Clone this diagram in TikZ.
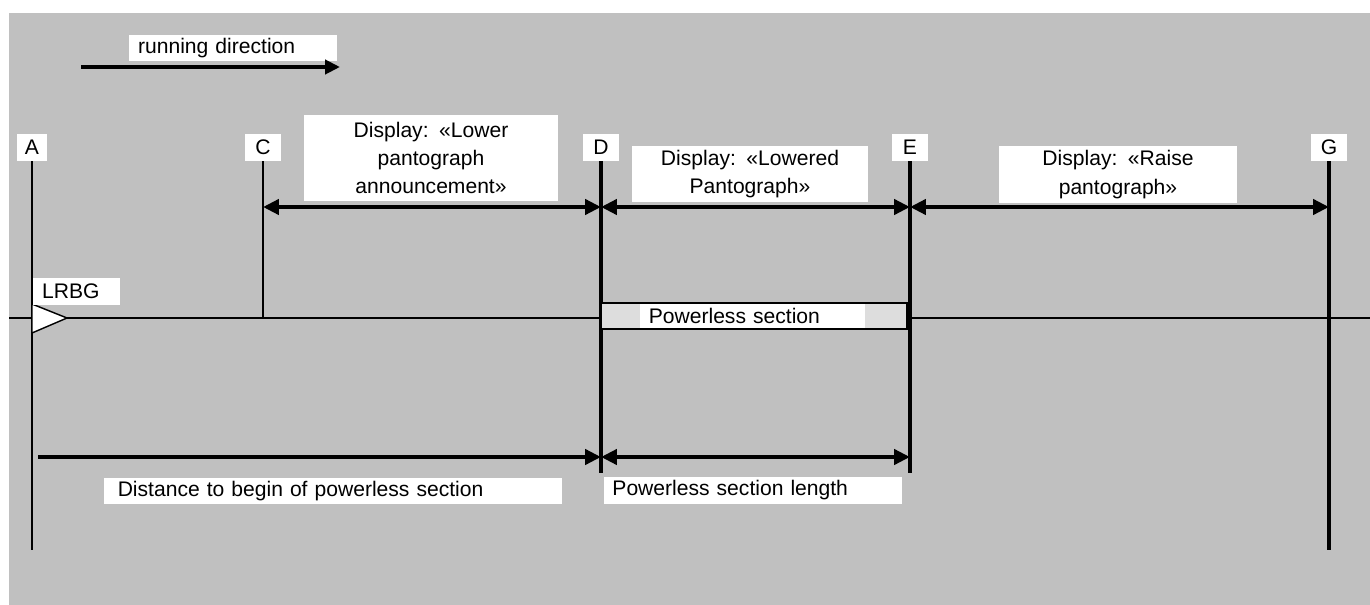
\documentclass[tikz,border=0pt]{standalone}
\usepackage{fontspec}
\setmainfont{Liberation Sans}
\usetikzlibrary{arrows.meta}
\definecolor{bggray}{HTML}{C0C0C0}
\definecolor{sectgray}{HTML}{DDDDDD}
\begin{document}
\begin{tikzpicture}[x=0.02cm, y=-0.02cm, font=\fontsize{12pt}{16pt}\selectfont,
  tag/.style = {fill=white, inner sep=0pt, minimum height=15pt},
  tagl/.style = {tag, align=left, inner xsep=5pt},
  disp/.style = {tag, align=center},
  post/.style = {line width=0.7pt},
  bigpost/.style = {line width=2pt},
  dim/.style = {line width=2.7pt, {Triangle[length=9pt,width=8.5pt]}-{Triangle[length=9pt,width=8.5pt]}},
  dimr/.style = {line width=2.7pt, -{Triangle[length=9pt,width=8.5pt]}}]
\useasboundingbox (0,0) rectangle (1370,605);
\fill[bggray] (9,13) rectangle (1370,605);
% running direction
\node[tagl, text width=108pt] (run) at (233,48) {running direction};
\coordinate (r1) at (81,67);
\coordinate (r2) at (340,67);
\draw[line width=2.2pt, -{Triangle[length=8.5pt,width=8pt]}] (r1) -- (r2);
% track
\coordinate (t1) at (9,318);
\coordinate (t2) at (1370,318);
\draw[post] (t1) -- (t2);
% points
\node[tag, minimum width=17pt] (A) at (32,147.5) {A};
\node[tag, minimum width=21pt] (C) at (263,147.5) {C};
\node[tag, minimum width=20pt] (D) at (601,147.5) {D};
\node[tag, minimum width=20pt] (E) at (910,147.5) {E};
\node[tag, minimum width=21pt] (G) at (1329,147.5) {G};
\coordinate (Ab) at (32,550);
\coordinate (Cb) at (263,318);
\coordinate (Db) at (601,473);
\coordinate (Eb) at (910,473);
\coordinate (Gb) at (1329,550);
\draw[post] (A) -- (Ab);
\draw[post] (C) -- (Cb);
\draw[bigpost] (D) -- (Db);
\draw[bigpost] (E) -- (Eb);
\draw[line width=2.3pt] (G) -- (Gb);
% LRBG
\draw[fill=white, line width=0.8pt] (32,304) -- (67,318) -- (32,333) -- cycle;
\node[tagl, text width=39pt] (lrbg) at (76.5,291.5) {LRBG};
% powerless section
\node[draw, fill=sectgray, line width=1.6pt, minimum width=175pt, minimum height=14.7pt, inner sep=0pt] (ps) at (754,316) {};
\node[tagl, text width=118pt, minimum height=13.6pt] (pstext) at (752.5,316) {Powerless section};
% displays
\coordinate (c1) at (263,207);
\coordinate (d1) at (601,207);
\coordinate (e1) at (910,207);
\coordinate (g1) at (1329,207);
\draw[dim] (c1) -- (d1);
\draw[dim] (d1) -- (e1);
\draw[dim] (e1) -- (g1);
\node[disp, text width=145pt, minimum height=49pt] (lower) at (431,158) {Display: «Lower\\pantograph\\announcement»};
\node[disp, text width=134pt, minimum height=32pt] (lowered) at (750,174) {Display: «Lowered\\Pantograph»};
\node[disp, text width=135pt, minimum height=32pt] (raise) at (1118,174.5) {Display: «Raise\\pantograph»};
% distances
\coordinate (a2) at (38,457);
\coordinate (d2) at (601,457);
\coordinate (e2) at (910,457);
\draw[dimr] (a2) -- (d2);
\draw[dim] (d2) -- (e2);
\node[tagl, text width=245pt, inner xsep=8pt] (dist) at (333,491) {Distance to begin of powerless section};
\node[tagl, text width=160pt] (len) at (753,490.5) {Powerless section length};
\end{tikzpicture}
\end{document}
